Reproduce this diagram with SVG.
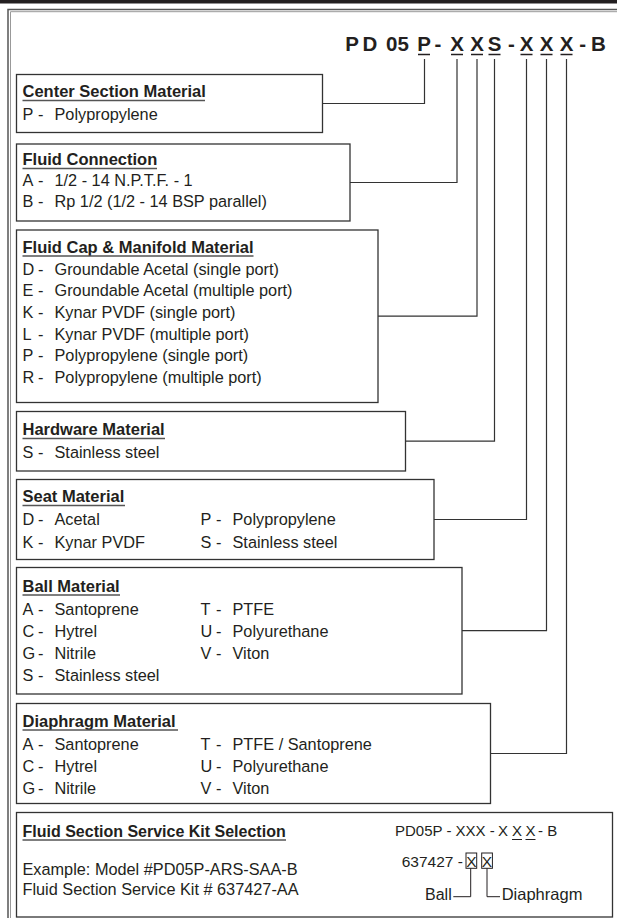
<svg xmlns="http://www.w3.org/2000/svg" width="617" height="918" viewBox="0 0 617 918">
<style>
.t{font-family:"Liberation Sans",Arial,sans-serif;font-size:16.3px;fill:#231f20}
.h{font-weight:bold;font-size:16.5px}
.k{font-size:15.5px}
.m{font-family:"Liberation Sans",Arial,sans-serif;font-weight:bold;font-size:20.5px;fill:#231f20;text-anchor:middle}
.box{fill:#fff;stroke:#333;stroke-width:1.3}
.ul{stroke:#555;stroke-width:1.5}
.mul{stroke:#231f20;stroke-width:1.5}
.conn{fill:none;stroke:#333;stroke-width:1.2}
.thin{fill:none;stroke:#231f20;stroke-width:1}
</style>
<rect x="0" y="0" width="617" height="918" fill="#fff"/>
<rect x="0" y="0" width="617" height="3.5" fill="#231f20"/>
<g id="frame">
<path d="M8 918V9.5H617" fill="none" stroke="#555" stroke-width="1.5"/>
<path d="M10.5 918V11.7H617" fill="none" stroke="#999" stroke-width="1"/>
</g>
<g id="model-code">
<text class="m" x="352" y="51">P</text>
<text class="m" x="370" y="51">D</text>
<text class="m" x="397.5" y="51">05</text>
<text class="m" x="424" y="51">P</text>
<text class="m" x="438" y="51">-</text>
<text class="m" x="457" y="51">X</text>
<text class="m" x="477" y="51">X</text>
<text class="m" x="494.5" y="51">S</text>
<text class="m" x="511.3" y="51">-</text>
<text class="m" x="526.5" y="51">X</text>
<text class="m" x="546.5" y="51">X</text>
<text class="m" x="566.5" y="51">X</text>
<text class="m" x="582.7" y="51">-</text>
<text class="m" x="598.3" y="51">B</text>
<path class="mul" d="M418 54.5H430M451 54.5H463M471 54.5H483M488.5 54.5H500.5M520.5 54.5H532.5M540.5 54.5H552.5M560.5 54.5H572.5"/>
</g>
<g id="connectors">
<path class="conn" d="M424.5 59V103.5H322.5"/>
<path class="conn" d="M457 59V182.5H350"/>
<path class="conn" d="M477 59V316.2H378"/>
<path class="conn" d="M494.5 59V441.2H405.5"/>
<path class="conn" d="M526.5 59V519.5H434"/>
<path class="conn" d="M546.5 59V630.7H462"/>
<path class="conn" d="M566.5 59V753.5H490.5"/>
</g>
<g id="center-section">
<rect class="box" x="16.5" y="74.5" width="306" height="58"/>
<text class="t h" x="22.5" y="97">Center Section Material</text>
<line class="ul" x1="22.5" y1="100.5" x2="205" y2="100.5"/>
<text class="t" y="120"><tspan x="22.5">P</tspan><tspan x="38">-</tspan><tspan x="54.5">Polypropylene</tspan></text>
</g>
<g id="fluid-connection">
<rect class="box" x="16.5" y="144" width="333.5" height="77"/>
<text class="t h" x="22.5" y="165">Fluid Connection</text>
<line class="ul" x1="22.5" y1="168.5" x2="157" y2="168.5"/>
<text class="t" y="186"><tspan x="22.5">A</tspan><tspan x="38">-</tspan><tspan x="54.5">1/2 - 14 N.P.T.F. - 1</tspan></text>
<text class="t" y="207"><tspan x="22.5">B</tspan><tspan x="38">-</tspan><tspan x="54.5">Rp 1/2 (1/2 - 14 BSP parallel)</tspan></text>
</g>
<g id="fluid-cap">
<rect class="box" x="16.5" y="230" width="361.5" height="172.5"/>
<text class="t h" x="22.5" y="252.5">Fluid Cap &amp; Manifold Material</text>
<line class="ul" x1="22.5" y1="256" x2="253.5" y2="256"/>
<text class="t" y="274.5"><tspan x="22.5">D</tspan><tspan x="38">-</tspan><tspan x="54.5">Groundable Acetal (single port)</tspan></text>
<text class="t" y="296"><tspan x="22.5">E</tspan><tspan x="38">-</tspan><tspan x="54.5">Groundable Acetal (multiple port)</tspan></text>
<text class="t" y="318"><tspan x="22.5">K</tspan><tspan x="38">-</tspan><tspan x="54.5">Kynar PVDF (single port)</tspan></text>
<text class="t" y="339.5"><tspan x="22.5">L</tspan><tspan x="38">-</tspan><tspan x="54.5">Kynar PVDF (multiple port)</tspan></text>
<text class="t" y="361"><tspan x="22.5">P</tspan><tspan x="38">-</tspan><tspan x="54.5">Polypropylene (single port)</tspan></text>
<text class="t" y="383"><tspan x="22.5">R</tspan><tspan x="38">-</tspan><tspan x="54.5">Polypropylene (multiple port)</tspan></text>
</g>
<g id="hardware">
<rect class="box" x="16.5" y="411.5" width="389" height="59.5"/>
<text class="t h" x="22.5" y="435">Hardware Material</text>
<line class="ul" x1="22.5" y1="438.5" x2="165" y2="438.5"/>
<text class="t" y="458"><tspan x="22.5">S</tspan><tspan x="38">-</tspan><tspan x="54.5">Stainless steel</tspan></text>
</g>
<g id="seat">
<rect class="box" x="16.5" y="479.5" width="417.5" height="80"/>
<text class="t h" x="22.5" y="502">Seat Material</text>
<line class="ul" x1="22.5" y1="505.5" x2="125" y2="505.5"/>
<text class="t" y="525"><tspan x="22.5">D</tspan><tspan x="38">-</tspan><tspan x="54.5">Acetal</tspan><tspan x="200.5">P</tspan><tspan x="216">-</tspan><tspan x="232.5">Polypropylene</tspan></text>
<text class="t" y="547.5"><tspan x="22.5">K</tspan><tspan x="38">-</tspan><tspan x="54.5">Kynar PVDF</tspan><tspan x="200.5">S</tspan><tspan x="216">-</tspan><tspan x="232.5">Stainless steel</tspan></text>
</g>
<g id="ball">
<rect class="box" x="16.5" y="567.5" width="445.5" height="126.5"/>
<text class="t h" x="22.5" y="591.5">Ball Material</text>
<line class="ul" x1="22.5" y1="595" x2="120" y2="595"/>
<text class="t" y="614.5"><tspan x="22.5">A</tspan><tspan x="38">-</tspan><tspan x="54.5">Santoprene</tspan><tspan x="200.5">T</tspan><tspan x="216">-</tspan><tspan x="232.5">PTFE</tspan></text>
<text class="t" y="636.5"><tspan x="22.5">C</tspan><tspan x="38">-</tspan><tspan x="54.5">Hytrel</tspan><tspan x="200.5">U</tspan><tspan x="216">-</tspan><tspan x="232.5">Polyurethane</tspan></text>
<text class="t" y="658.5"><tspan x="22.5">G</tspan><tspan x="38">-</tspan><tspan x="54.5">Nitrile</tspan><tspan x="200.5">V</tspan><tspan x="216">-</tspan><tspan x="232.5">Viton</tspan></text>
<text class="t" y="680.5"><tspan x="22.5">S</tspan><tspan x="38">-</tspan><tspan x="54.5">Stainless steel</tspan></text>
</g>
<g id="diaphragm">
<rect class="box" x="16.5" y="703.5" width="474" height="100"/>
<text class="t h" x="22.5" y="726.5">Diaphragm Material</text>
<line class="ul" x1="22.5" y1="730" x2="178" y2="730"/>
<text class="t" y="749.5"><tspan x="22.5">A</tspan><tspan x="38">-</tspan><tspan x="54.5">Santoprene</tspan><tspan x="200.5">T</tspan><tspan x="216">-</tspan><tspan x="232.5">PTFE / Santoprene</tspan></text>
<text class="t" y="771.5"><tspan x="22.5">C</tspan><tspan x="38">-</tspan><tspan x="54.5">Hytrel</tspan><tspan x="200.5">U</tspan><tspan x="216">-</tspan><tspan x="232.5">Polyurethane</tspan></text>
<text class="t" y="793.5"><tspan x="22.5">G</tspan><tspan x="38">-</tspan><tspan x="54.5">Nitrile</tspan><tspan x="200.5">V</tspan><tspan x="216">-</tspan><tspan x="232.5">Viton</tspan></text>
</g>
<g id="service-kit">
<rect class="box" x="16.5" y="812.5" width="596" height="104.5"/>
<text class="t h" x="22.5" y="836.5" style="font-size:16px">Fluid Section Service Kit Selection</text>
<line class="ul" x1="22.5" y1="840" x2="286" y2="840"/>
<text class="t" x="22.5" y="875">Example: Model #PD05P-ARS-SAA-B</text>
<text class="t" x="22.5" y="895">Fluid Section Service Kit # 637427-AA</text>
<text class="t" x="395" y="836" style="font-size:15px">PD05P - XXX -</text>
<text class="t" x="503" y="836" style="font-size:15px;text-anchor:middle">X</text>
<text class="t" x="517" y="836" style="font-size:15px;text-anchor:middle">X</text>
<text class="t" x="530.5" y="836" style="font-size:15px;text-anchor:middle">X</text>
<text class="t" x="538" y="836" style="font-size:15px">- B</text>
<path class="thin" d="M512 839.5H522M525.5 839.5H535.5"/>
<text class="t k" x="401.7" y="866.5">637427 -</text>
<rect class="thin" x="466" y="853" width="10.7" height="15.3"/>
<rect class="thin" x="481.7" y="853" width="10.7" height="15.3"/>
<text class="t k" x="471.3" y="866.5" style="text-anchor:middle">X</text>
<text class="t k" x="487" y="866.5" style="text-anchor:middle">X</text>
<path class="thin" d="M453.3 896.7H470.7V868.3M487 868.3V896.7H500"/>
<text class="t" x="425" y="900" style="font-size:16px">Ball</text>
<text class="t" x="501.7" y="900" style="font-size:16.5px">Diaphragm</text>
</g>
</svg>
